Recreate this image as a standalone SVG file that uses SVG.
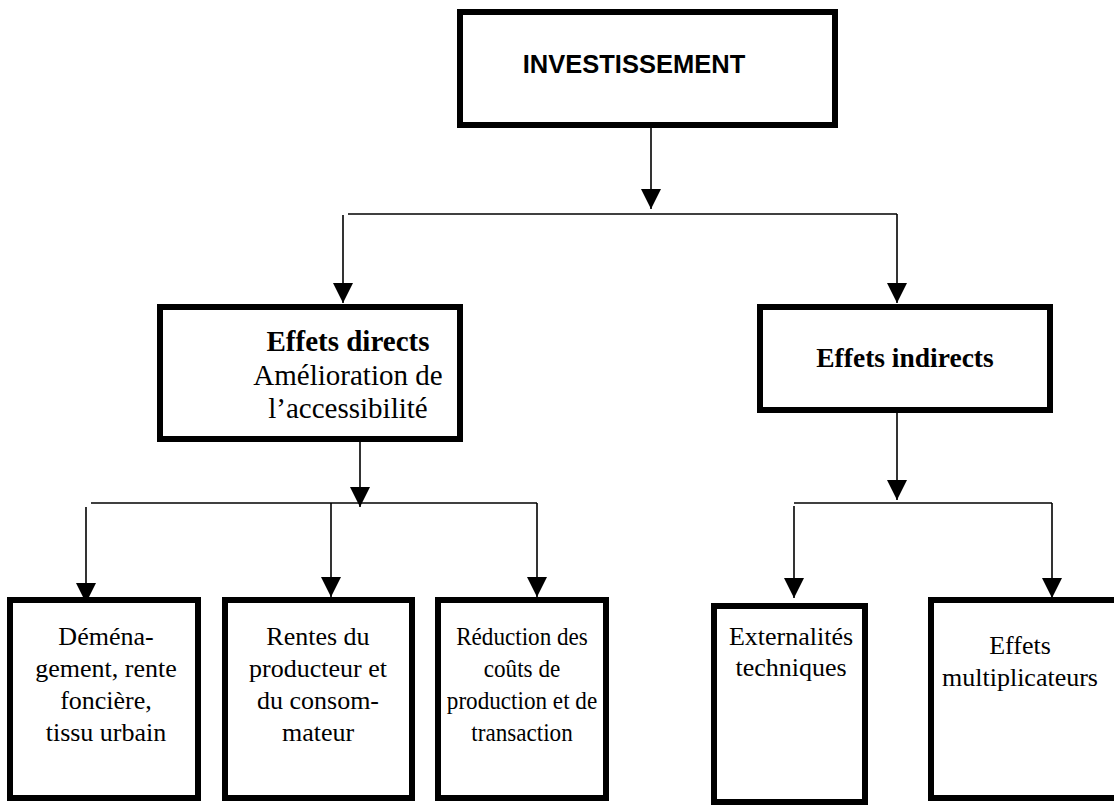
<svg xmlns="http://www.w3.org/2000/svg" width="1114" height="805" viewBox="0 0 1114 805">
<style>
.box{fill:#fff;stroke:#000;stroke-width:6}
.ln{fill:none;stroke:#000;stroke-width:1.6}
.tm{font-family:"Liberation Serif","Times New Roman",serif;fill:#000;text-anchor:middle}
.ar{font-family:"Liberation Sans",Arial,sans-serif;font-weight:bold;fill:#000;text-anchor:middle}
</style>
<defs>
<marker id="ah" viewBox="0 0 20 20" refX="20" refY="10" markerWidth="20" markerHeight="20" markerUnits="userSpaceOnUse" orient="auto">
<path d="M0,0 L20,10 L0,20 Z" fill="#000"/>
</marker>
</defs>
<rect width="1114" height="805" fill="#fff"/>
<g id="connectors">
<line class="ln" x1="651" y1="121" x2="651" y2="209" marker-end="url(#ah)"/>
<line class="ln" x1="348" y1="214" x2="897" y2="214"/>
<line class="ln" x1="343" y1="215" x2="343" y2="303" marker-end="url(#ah)"/>
<line class="ln" x1="897" y1="214" x2="897" y2="303" marker-end="url(#ah)"/>
<line class="ln" x1="360" y1="442" x2="360" y2="507" marker-end="url(#ah)"/>
<line class="ln" x1="91" y1="503" x2="537" y2="503"/>
<line class="ln" x1="86" y1="507" x2="86" y2="603" marker-end="url(#ah)"/>
<line class="ln" x1="331" y1="503" x2="331" y2="597" marker-end="url(#ah)"/>
<line class="ln" x1="537" y1="503" x2="537" y2="597" marker-end="url(#ah)"/>
<line class="ln" x1="897" y1="413" x2="897" y2="500" marker-end="url(#ah)"/>
<line class="ln" x1="794" y1="503" x2="1052" y2="503"/>
<line class="ln" x1="794" y1="506" x2="794" y2="598" marker-end="url(#ah)"/>
<line class="ln" x1="1052" y1="503" x2="1052" y2="598" marker-end="url(#ah)"/>
</g>
<g id="investissement">
<rect class="box" x="460" y="12" width="375" height="113"/>
<text class="ar" x="634" y="73" font-size="25.5">INVESTISSEMENT</text>
</g>
<g id="effets-directs">
<rect class="box" x="160" y="307" width="300" height="132"/>
<text class="tm" x="348" y="351" font-size="29" font-weight="bold">Effets directs</text>
<text class="tm" x="348" y="385" font-size="29">Amélioration de</text>
<text class="tm" x="348" y="418" font-size="29">l’accessibilité</text>
</g>
<g id="effets-indirects">
<rect class="box" x="760" y="307" width="290" height="103"/>
<text class="tm" x="905" y="367" font-size="27.5" font-weight="bold">Effets indirects</text>
</g>
<g id="demenagement">
<rect class="box" x="10" y="600" width="188" height="198"/>
<text class="tm" x="106" y="645" font-size="26">Déména-</text>
<text class="tm" x="106" y="677" font-size="26">gement, rente</text>
<text class="tm" x="106" y="709" font-size="26">foncière,</text>
<text class="tm" x="106" y="741" font-size="26">tissu urbain</text>
</g>
<g id="rentes">
<rect class="box" x="225" y="600" width="187" height="198"/>
<text class="tm" x="318" y="645" font-size="26">Rentes du</text>
<text class="tm" x="318" y="677" font-size="26">producteur et</text>
<text class="tm" x="318" y="709" font-size="26">du consom-</text>
<text class="tm" x="318" y="741" font-size="26">mateur</text>
</g>
<g id="reduction">
<rect class="box" x="438" y="600" width="168" height="198"/>
<g transform="translate(522,0) scale(0.89,1)">
<text class="tm" x="0" y="645" font-size="26">Réduction des</text>
<text class="tm" x="0" y="677" font-size="26">coûts de</text>
<text class="tm" x="0" y="709" font-size="26">production et de</text>
<text class="tm" x="0" y="741" font-size="26">transaction</text>
</g>
</g>
<g id="externalites">
<rect class="box" x="714" y="606" width="151" height="196"/>
<text class="tm" x="791" y="645" font-size="26">Externalités</text>
<text class="tm" x="791" y="676" font-size="26">techniques</text>
</g>
<g id="multiplicateurs">
<rect class="box" x="931" y="600" width="190" height="198"/>
<text class="tm" x="1020" y="654" font-size="26">Effets</text>
<text class="tm" x="1020" y="686" font-size="26">multiplicateurs</text>
</g>
</svg>
